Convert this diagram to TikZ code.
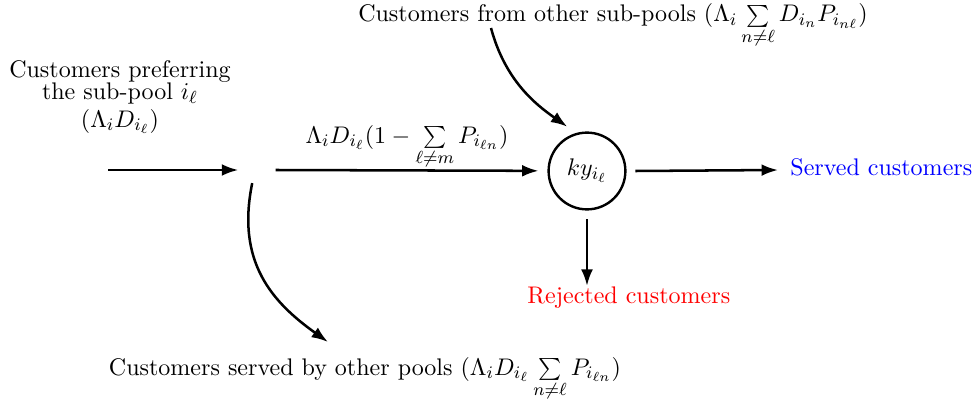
\documentclass[tikz,border=0pt]{standalone}
\usetikzlibrary{arrows.meta}
\begin{document}
\begin{tikzpicture}[x=0.01602cm,y=-0.01602cm,
  font=\fontsize{10.95}{10}\selectfont,
  arr/.style={line width=1.15pt,-{Latex[length=7.5pt,width=5.4pt]}},
  pool/.style={circle,draw,line width=1.1pt,minimum size=35pt,inner sep=0pt,outer sep=4.6pt},
  txt/.style={inner sep=0pt}]
\useasboundingbox (0,0) rectangle (974,402);
% nodes
\node[txt,anchor=base] (top) at (613,22) {Customers from other sub-pools $(\Lambda_i \sum\limits_{n\neq\ell} D_{i_n}P_{i_{n\ell}})$};
\node[txt,align=center,anchor=north] (left) at (120,60) {Customers preferring\\the sub-pool $i_\ell$\\[1.3pt]$(\Lambda_i D_{i_\ell})$};
\node[txt,anchor=base] (lab) at (407,143) {$\Lambda_i D_{i_\ell}(1-\sum\limits_{\ell\neq m} P_{i_{\ell n}})$};
\node[txt,anchor=base] (bot) at (365,375) {Customers served by other pools $(\Lambda_i D_{i_\ell}\sum\limits_{n\neq\ell} P_{i_{\ell n}})$};
\node[pool] (pool) at (587,171) {$ky_{i_\ell}$};
\node[txt,anchor=base west,text=blue] (served) at (790,175) {Served customers};
\node[txt,anchor=base west,text=red] (rej) at (527,303) {Rejected customers};
\node[inner sep=0pt,outer sep=0pt,minimum width=0.6cm,minimum height=0.42cm] (split) at (257,170) {};
\coordinate (in) at (108,170);
\coordinate (ts) at (491,28);
\coordinate (servedin) at (778,170);
% connectors
\draw[arr] (in) -- (split.west);
\draw[arr] (split.east) -- (pool);
\draw[arr] (pool.east) -- (servedin);
\draw[arr] (pool.south) -- (rej.north -| pool.south);
\draw[arr] (ts) .. controls (505,80) and (535,104) .. (pool.114);
\draw[arr] (split.-110) .. controls (236,262) and (272,302) .. (328,342);
\end{tikzpicture}
\end{document}
